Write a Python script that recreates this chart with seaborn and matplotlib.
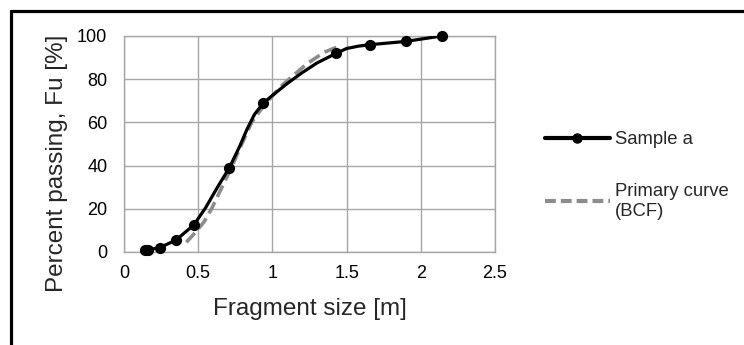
import matplotlib
matplotlib.use("Agg")
import matplotlib.pyplot as plt
from matplotlib.lines import Line2D
import pandas as pd
import seaborn as sns

# measured sample points (markers)
sample_size = [0.14, 0.16, 0.24, 0.35, 0.47, 0.71, 0.94, 1.43, 1.66, 1.90, 2.14]
sample_pass = [1.0, 1.0, 2.0, 5.5, 12.5, 39.0, 69.0, 92.0, 96.0, 97.5, 100.0]

# smoothed sample curve
curve_size = [0.14, 0.16, 0.24, 0.35, 0.47, 0.55, 0.63, 0.71, 0.78, 0.83, 0.88,
              0.94, 1.00, 1.10, 1.20, 1.30, 1.43, 1.50, 1.58, 1.66, 1.90, 2.14]
curve_pass = [1.0, 1.0, 2.0, 5.5, 12.5, 20.5, 30.0, 39.0, 49.0, 57.0, 63.8,
              69.0, 72.5, 78.0, 83.0, 87.5, 92.0, 94.2, 95.3, 96.0, 97.5, 100.0]

# primary curve (BCF), dashed
bcf_size = [0.42, 0.48, 0.54, 0.59, 0.66, 0.73, 0.80, 0.86, 0.95, 1.07, 1.23, 1.35, 1.44]
bcf_pass = [4.5, 9.0, 14.0, 20.0, 30.0, 40.0, 51.0, 60.0, 68.5, 77.5, 87.0, 92.5, 95.0]

x_ticks = [0, 0.5, 1, 1.5, 2, 2.5]
y_ticks = [0, 20, 40, 60, 80, 100]

sns.set_style("white")
plt.rcParams["font.family"] = ["Liberation Sans", "DejaVu Sans"]

fig = plt.figure(figsize=(7.44, 3.45), dpi=100)
ax = fig.add_axes([124 / 744, 1 - 252 / 345, 371 / 744, 216 / 345])

grid_col = "#a6a6a6"

bcf_df = pd.DataFrame({"size": bcf_size, "pass": bcf_pass})
curve_df = pd.DataFrame({"size": curve_size, "pass": curve_pass})
sample_df = pd.DataFrame({"size": sample_size, "pass": sample_pass})

sns.lineplot(data=bcf_df, x="size", y="pass", ax=ax, sort=False, estimator=None,
             color="#8c8c8c", linewidth=2.6, zorder=3)
ax.lines[-1].set_dashes([3.5, 1.6])
sns.lineplot(data=curve_df, x="size", y="pass", ax=ax, sort=False, estimator=None,
             color="black", linewidth=2.3, zorder=4)
sns.scatterplot(data=sample_df, x="size", y="pass", ax=ax, color="black",
                s=65, edgecolor="black", linewidth=0, zorder=5)
for coll in ax.collections:
    coll.set_clip_on(False)

ax.set_xlim(0, 2.5)
ax.set_ylim(0, 100)
ax.set_xticks(x_ticks)
ax.set_xticklabels(["0", "0.5", "1", "1.5", "2", "2.5"])
ax.set_yticks(y_ticks)
ax.grid(True, color=grid_col, linewidth=1.0)
for sp in ax.spines.values():
    sp.set_color(grid_col)
    sp.set_linewidth(1.0)
ax.tick_params(axis="both", length=0, labelsize=13, colors="black")
ax.tick_params(axis="y", pad=12)
ax.tick_params(axis="x", pad=9)

ax.set_xlabel("Fragment size [m]", fontsize=17.5)
ax.set_ylabel("Percent passing, Fu [%]", fontsize=17.5)
ax.xaxis.set_label_coords(0.5, -0.215)
ax.yaxis.set_label_coords(-0.151, 0.41)

handles = [
    Line2D([], [], color="black", linewidth=3.0, marker="o", markersize=6.5),
    Line2D([], [], color="#8c8c8c", linewidth=3.0, dashes=[2.6, 1.2]),
]
fig.legend(handles, ["Sample a", "Primary curve\n(BCF)"], loc="upper left",
           bbox_to_anchor=(545 / 744, 1 - 131 / 345), frameon=False,
           fontsize=13.3, handlelength=3.5, handletextpad=0.3, labelspacing=1.9,
           borderpad=0, borderaxespad=0)

# partial frame around the figure (top and left edges)
fig.add_artist(Line2D([10.5 / 744, 10.5 / 744], [0, 1 - 10.5 / 345],
                      transform=fig.transFigure, color="black", linewidth=2.3))
fig.add_artist(Line2D([10.5 / 744, 1], [1 - 10.5 / 345, 1 - 10.5 / 345],
                      transform=fig.transFigure, color="black", linewidth=2.3))

fig.savefig("out.png", dpi=100)
